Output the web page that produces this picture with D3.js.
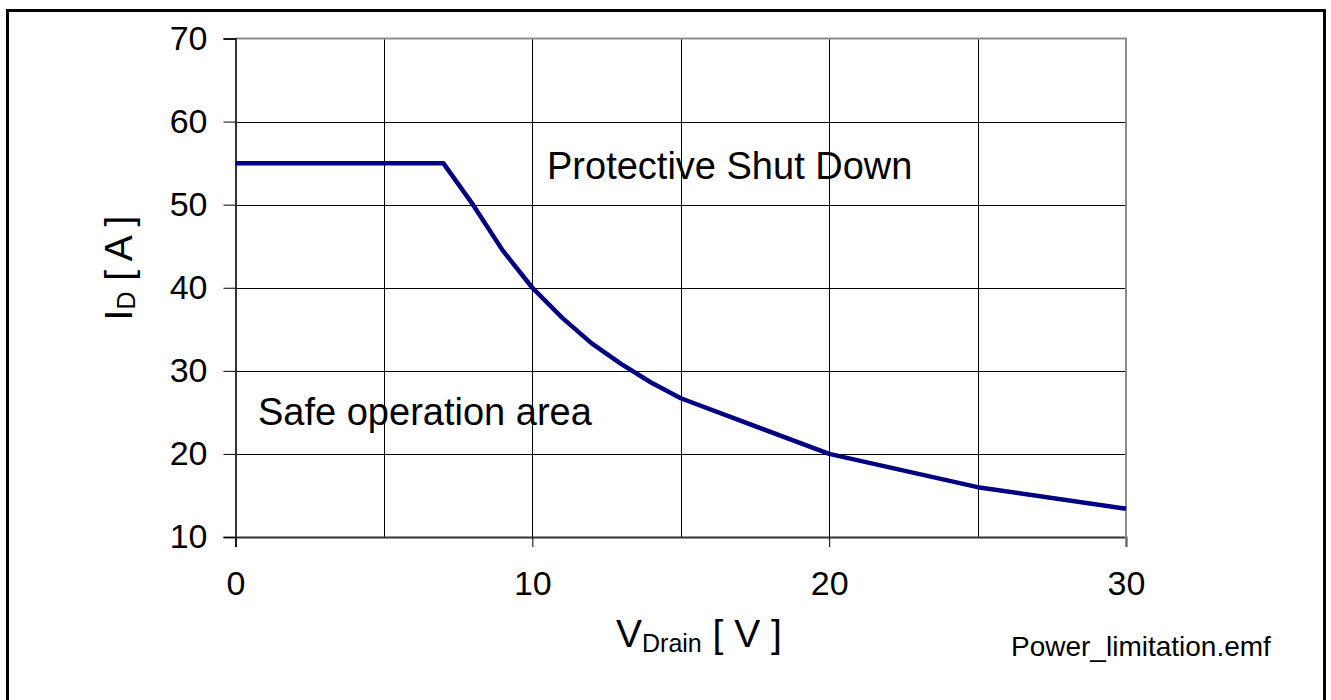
<!DOCTYPE html>
<html>
<head>
<meta charset="utf-8">
<script src="https://cdn.jsdelivr.net/npm/d3@7"></script>
<style>
  html, body { margin: 0; padding: 0; background: #fff; }
  svg { display: block; font-family: "Liberation Sans", Arial, sans-serif; }
</style>
</head>
<body>
<svg id="chart" width="1331" height="700"></svg>
<script>
// ---- data ----
const vDrain = [0, 7, 8, 9, 10, 11, 12, 13, 14, 15, 20, 25, 30];
const iDrain = [55, 55, 50, 44.5, 40, 36.4, 33.3, 30.8, 28.6, 26.7, 20, 16, 13.4];
const xTickLabels = [0, 10, 20, 30];
const xGridValues = [0, 5, 10, 15, 20, 25, 30];
const yTickLabels = [10, 20, 30, 40, 50, 60, 70];
const regionLabels = ["Protective Shut Down", "Safe operation area"];
const fileLabel = "Power_limitation.emf";

(function () {
// ---- layout ----
const svg = d3.select("#chart");
const pLeft = 235.5, pRight = 1126, pTop = 38.5, pBottom = 537;

const x = d3.scaleLinear().domain([0, 30]).range([pLeft, pRight]);
const y = d3.scaleLinear().domain([10, 70]).range([pBottom, pTop]);

// outer frame
svg.append("rect")
  .attr("x", 7.5).attr("y", 10.5).attr("width", 1317).attr("height", 700)
  .attr("fill", "none").attr("stroke", "#000").attr("stroke-width", 3);

// gridlines
svg.append("g").selectAll("line").data(xGridValues.slice(1, -1)).join("line")
  .attr("x1", d => Math.round(x(d)) + 0.5).attr("x2", d => Math.round(x(d)) + 0.5)
  .attr("y1", pTop).attr("y2", pBottom)
  .attr("stroke", "#000").attr("stroke-width", 1);
svg.append("g").selectAll("line").data(yTickLabels.slice(1, -1)).join("line")
  .attr("x1", pLeft).attr("x2", pRight)
  .attr("y1", d => Math.round(y(d)) + 0.5).attr("y2", d => Math.round(y(d)) + 0.5)
  .attr("stroke", "#000").attr("stroke-width", 1);

// top & right plot border (gray)
svg.append("path")
  .attr("d", `M${pLeft},${pTop}H${pRight}V${pBottom}`)
  .attr("fill", "none").attr("stroke", "#8c8c8c").attr("stroke-width", 2);

// y axis
const yAxis = d3.axisLeft(y).tickValues(yTickLabels).tickSize(12).tickPadding(16)
  .tickFormat(d3.format("d"));
const gy = svg.append("g").attr("transform", `translate(${pLeft},0)`).call(yAxis);
gy.select(".domain").attr("stroke", "#333").attr("stroke-width", 2);
gy.selectAll(".tick line").attr("stroke", "#000").attr("stroke-width", 1);
gy.selectAll(".tick text").attr("font-size", 34).attr("fill", "#000")
  .attr("font-family", "'Liberation Sans', Arial, sans-serif");

// x axis
const xAxis = d3.axisBottom(x).tickValues(xTickLabels).tickSize(10).tickPadding(24)
  .tickFormat(d3.format("d"));
const gx = svg.append("g").attr("transform", `translate(0,${pBottom})`).call(xAxis);
gx.select(".domain").attr("stroke", "#333").attr("stroke-width", 2);
gx.selectAll(".tick line").attr("stroke", "#000").attr("stroke-width", 1);
gx.selectAll(".tick text").attr("font-size", 34).attr("fill", "#000")
  .attr("font-family", "'Liberation Sans', Arial, sans-serif");

// redraw right border over x domain end
svg.append("line").attr("x1", pRight).attr("x2", pRight).attr("y1", pTop).attr("y2", pBottom)
  .attr("stroke", "#8c8c8c").attr("stroke-width", 2);
svg.append("line").attr("x1", pRight).attr("x2", pRight).attr("y1", pBottom).attr("y2", pBottom + 10)
  .attr("stroke", "#8c8c8c").attr("stroke-width", 1.5);

// data line
const pts = vDrain.map((v, i) => [v, iDrain[i]]);
svg.append("path")
  .datum(pts)
  .attr("d", d3.line().x(d => x(d[0])).y(d => y(d[1])))
  .attr("fill", "none").attr("stroke", "#000080").attr("stroke-width", 4.5)
  .attr("stroke-linejoin", "round");

// region labels
svg.append("text").attr("x", 547).attr("y", 179).attr("font-size", 38).attr("fill", "#000")
  .text(regionLabels[0]);
svg.append("text").attr("x", 258).attr("y", 425).attr("font-size", 38).attr("fill", "#000")
  .text(regionLabels[1]);

// x axis title
const xt = svg.append("text").attr("x", 616).attr("y", 647).attr("font-size", 39).attr("fill", "#000");
xt.append("tspan").text("V");
xt.append("tspan").attr("font-size", 25).attr("dy", 5).text("Drain");
xt.append("tspan").attr("dy", -5).text(" [ V ]");

// y axis title
const yt = svg.append("text").attr("transform", "translate(132,268) rotate(-90)")
  .attr("text-anchor", "middle").attr("font-size", 39).attr("fill", "#000");
yt.append("tspan").text("I");
yt.append("tspan").attr("font-size", 25).attr("dy", 3).text("D");
yt.append("tspan").attr("dy", -3).text(" [ A ]");

// file label
svg.append("text").attr("x", 1011).attr("y", 656).attr("font-size", 28).attr("fill", "#000")
  .text(fileLabel);
})();
</script>
</body>
</html>
